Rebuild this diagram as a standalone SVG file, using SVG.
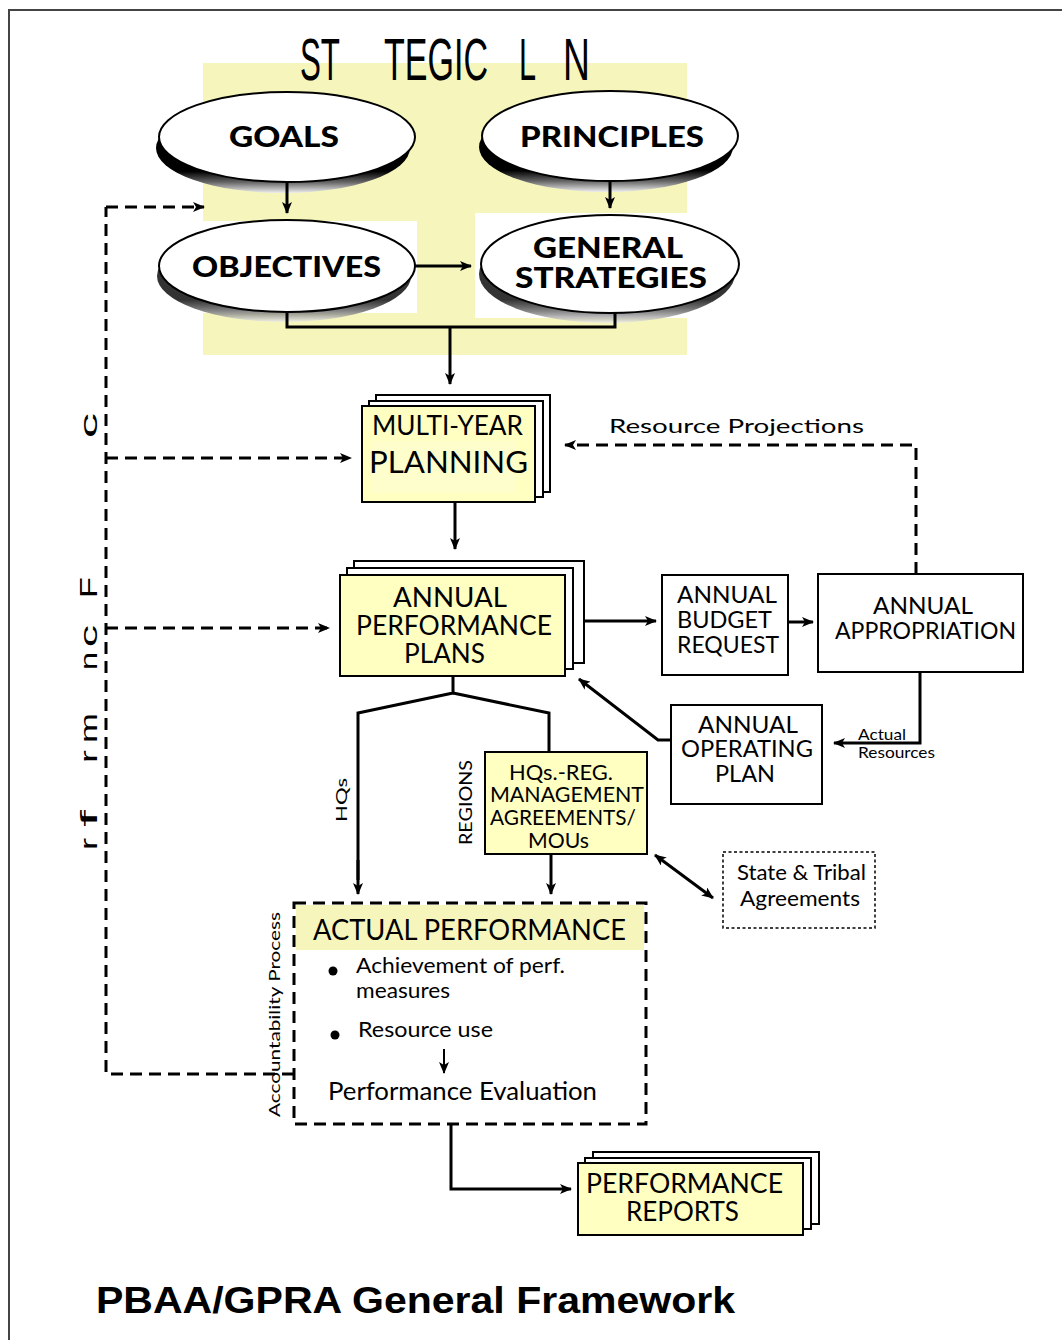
<svg xmlns="http://www.w3.org/2000/svg" width="1062" height="1340" viewBox="0 0 1062 1340">
<defs>
  <marker id="ah" viewBox="0 0 12 10" refX="11" refY="5" markerWidth="12" markerHeight="10" markerUnits="userSpaceOnUse" orient="auto-start-reverse">
    <path d="M0,0 L12,5 L0,10 L3,5 z" fill="#000"/>
  </marker>
  <linearGradient id="shd" x1="0" y1="0" x2="0" y2="1">
    <stop offset="0.76" stop-color="#000"/>
    <stop offset="0.88" stop-color="#666"/>
    <stop offset="1" stop-color="#eee"/>
  </linearGradient>
  <style>
    .sans{font-family:Lato,"Open Sans","Liberation Sans",sans-serif;fill:#000}
    .bold{font-family:Lato,"Liberation Sans",sans-serif;font-weight:900;fill:#000}
    .narrow{font-family:"Liberation Sans",Arial,sans-serif;font-size:60px;fill:#000}
    .ell{fill:#fff;stroke:#000;stroke-width:2}
    .ylw{fill:#FFFFC2;stroke:#000;stroke-width:2}
    .wht{fill:#fff;stroke:#000;stroke-width:2}
    .ln{fill:none;stroke:#000;stroke-width:3}
    .dash{fill:none;stroke:#000;stroke-width:3;stroke-dasharray:12 7}
    .arr{marker-end:url(#ah)}
  </style>
</defs>
<rect width="1062" height="1340" fill="#fff"/>
<!-- frame -->
<path d="M9,1340 V10 H1062" fill="none" stroke="#444" stroke-width="2"/>

<!-- strategic planning background -->
<g id="strategic-bg">
  <rect x="203" y="63" width="484" height="292" fill="#F6F6BC"/>
  <rect x="203" y="221" width="214" height="92" fill="#fff"/>
  <rect x="475" y="213" width="212" height="105" fill="#fff"/>
  <text class="narrow" transform="translate(300,80) scale(0.55,1)" textLength="72.7" lengthAdjust="spacingAndGlyphs">ST</text>
  <text class="narrow" transform="translate(384,80) scale(0.55,1)" textLength="189" lengthAdjust="spacingAndGlyphs">TEGIC</text>
  <text class="narrow" transform="translate(519,80) scale(0.55,1)" textLength="31" lengthAdjust="spacingAndGlyphs">L</text>
  <text class="narrow" transform="translate(563,80) scale(0.55,1)" textLength="49" lengthAdjust="spacingAndGlyphs">N</text>
</g>

<g id="goals">
  <ellipse cx="283" cy="148" rx="127" ry="45" fill="url(#shd)"/>
  <ellipse class="ell" cx="287" cy="137" rx="128" ry="45"/>
  <text class="bold" x="229" y="147" font-size="29" textLength="110" lengthAdjust="spacingAndGlyphs">GOALS</text>
</g>
<g id="principles">
  <ellipse cx="606" cy="147" rx="127" ry="45" fill="url(#shd)"/>
  <ellipse class="ell" cx="610" cy="136" rx="128" ry="45"/>
  <text class="bold" x="520" y="147" font-size="29" textLength="184" lengthAdjust="spacingAndGlyphs">PRINCIPLES</text>
</g>
<g id="objectives">
  <ellipse cx="284" cy="276" rx="127" ry="46" fill="url(#shd)" opacity="0.8"/>
  <ellipse class="ell" cx="287" cy="266" rx="128" ry="46"/>
  <text class="bold" x="192" y="277" font-size="29" textLength="189" lengthAdjust="spacingAndGlyphs">OBJECTIVES</text>
</g>
<g id="general-strategies">
  <ellipse cx="607" cy="274" rx="128" ry="49" fill="url(#shd)" opacity="0.8"/>
  <ellipse class="ell" cx="610" cy="264" rx="129" ry="49"/>
  <text class="bold" x="533" y="258" font-size="29" textLength="150" lengthAdjust="spacingAndGlyphs">GENERAL</text>
  <text class="bold" x="515" y="288" font-size="29" textLength="192" lengthAdjust="spacingAndGlyphs">STRATEGIES</text>
</g>

<g id="multi-year-planning">
  <rect class="wht" x="376" y="395" width="174" height="97"/>
  <rect class="wht" x="369" y="401" width="174" height="96"/>
  <rect class="ylw" x="362" y="406" width="173" height="96" fill="#F9F9BE"/>
  <rect x="372" y="441" width="143" height="52" fill="#FEFECC"/>
  <text class="sans" x="372" y="435" font-size="27" textLength="151" lengthAdjust="spacingAndGlyphs">MULTI-YEAR</text>
  <text class="sans" x="369" y="473" font-size="30" textLength="159" lengthAdjust="spacingAndGlyphs">PLANNING</text>
</g>

<g id="annual-performance-plans">
  <rect class="wht" x="354" y="561" width="230" height="102"/>
  <rect class="wht" x="347" y="568" width="226" height="101"/>
  <rect class="ylw" x="340" y="575" width="225" height="101"/>
  <text class="sans" x="393" y="607" font-size="26" textLength="114" lengthAdjust="spacingAndGlyphs">ANNUAL</text>
  <text class="sans" x="356" y="635" font-size="26" textLength="196" lengthAdjust="spacingAndGlyphs">PERFORMANCE</text>
  <text class="sans" x="404" y="663" font-size="26" textLength="81" lengthAdjust="spacingAndGlyphs">PLANS</text>
</g>

<g id="annual-budget-request">
  <rect class="wht" x="662" y="575" width="126" height="100"/>
  <text class="sans" x="677" y="603" font-size="23.5" textLength="100" lengthAdjust="spacingAndGlyphs">ANNUAL</text>
  <text class="sans" x="677" y="628" font-size="23.5" textLength="95" lengthAdjust="spacingAndGlyphs">BUDGET</text>
  <text class="sans" x="677" y="653" font-size="23.5" textLength="102" lengthAdjust="spacingAndGlyphs">REQUEST</text>
</g>

<g id="annual-appropriation">
  <rect class="wht" x="818" y="574" width="205" height="98"/>
  <text class="sans" x="873" y="614" font-size="23.5" textLength="100" lengthAdjust="spacingAndGlyphs">ANNUAL</text>
  <text class="sans" x="835" y="639" font-size="23.5" textLength="181" lengthAdjust="spacingAndGlyphs">APPROPRIATION</text>
</g>

<g id="annual-operating-plan">
  <rect class="wht" x="671" y="705" width="151" height="99"/>
  <text class="sans" x="698" y="733" font-size="23.5" textLength="100" lengthAdjust="spacingAndGlyphs">ANNUAL</text>
  <text class="sans" x="681" y="757" font-size="23.5" textLength="132" lengthAdjust="spacingAndGlyphs">OPERATING</text>
  <text class="sans" x="715" y="782" font-size="23.5" textLength="60" lengthAdjust="spacingAndGlyphs">PLAN</text>
</g>

<g id="hqs-reg-agreements">
  <rect class="ylw" x="485" y="752" width="162" height="102"/>
  <text class="sans" x="509" y="780" font-size="20.5" textLength="104" lengthAdjust="spacingAndGlyphs">HQs.-REG.</text>
  <text class="sans" x="490" y="802" font-size="20.5" textLength="154" lengthAdjust="spacingAndGlyphs">MANAGEMENT</text>
  <text class="sans" x="490" y="825" font-size="20.5" textLength="146" lengthAdjust="spacingAndGlyphs">AGREEMENTS/</text>
  <text class="sans" x="528" y="848" font-size="20.5" textLength="61" lengthAdjust="spacingAndGlyphs">MOUs</text>
</g>

<g id="state-tribal-agreements">
  <rect x="723" y="852" width="152" height="76" fill="#fff" stroke="#000" stroke-width="1.5" stroke-dasharray="3 2.5"/>
  <text class="sans" x="737" y="880" font-size="21" textLength="129" lengthAdjust="spacingAndGlyphs">State &amp; Tribal</text>
  <text class="sans" x="740" y="906" font-size="21" textLength="120" lengthAdjust="spacingAndGlyphs">Agreements</text>
</g>

<g id="actual-performance">
  <rect x="296" y="905" width="348" height="45" fill="#F6F6BC"/>
  <rect x="294" y="903" width="352" height="221" fill="none" stroke="#000" stroke-width="3" stroke-dasharray="12 7"/>
  <text class="sans" x="313" y="940" font-size="28" textLength="313" lengthAdjust="spacingAndGlyphs">ACTUAL PERFORMANCE</text>
  <circle cx="333" cy="971" r="4.5" fill="#000"/>
  <text class="sans" x="356" y="973" font-size="21" textLength="209" lengthAdjust="spacingAndGlyphs">Achievement of perf.</text>
  <text class="sans" x="356" y="998" font-size="21" textLength="94" lengthAdjust="spacingAndGlyphs">measures</text>
  <circle cx="335" cy="1035" r="4.5" fill="#000"/>
  <text class="sans" x="358" y="1037" font-size="21" textLength="135" lengthAdjust="spacingAndGlyphs">Resource use</text>
  <line x1="444" y1="1049" x2="444" y2="1073" stroke="#000" stroke-width="2" marker-end="url(#ah)"/>
  <text class="sans" x="328" y="1100" font-size="25" textLength="269" lengthAdjust="spacingAndGlyphs">Performance Evaluation</text>
</g>

<g id="performance-reports">
  <rect class="wht" x="593" y="1152" width="226" height="72"/>
  <rect class="wht" x="585" y="1158" width="226" height="71"/>
  <rect class="ylw" x="578" y="1163" width="225" height="72"/>
  <text class="sans" x="586" y="1193" font-size="26" textLength="197" lengthAdjust="spacingAndGlyphs">PERFORMANCE</text>
  <text class="sans" x="626" y="1221" font-size="26" textLength="113" lengthAdjust="spacingAndGlyphs">REPORTS</text>
</g>

<g id="connectors">
  <line class="ln arr" x1="287" y1="182" x2="287" y2="213" stroke-width="2.5"/>
  <line class="ln arr" x1="610" y1="181" x2="610" y2="208" stroke-width="2.5"/>
  <line class="ln arr" x1="415" y1="266" x2="471" y2="266"/>
  <path class="ln" d="M287,312 V327 H615 V313"/>
  <line class="ln arr" x1="450" y1="327" x2="450" y2="384"/>
  <line class="ln arr" x1="455" y1="502" x2="455" y2="549" stroke-width="2.5"/>
  <line class="ln arr" x1="584" y1="621" x2="656" y2="621"/>
  <line class="ln arr" x1="788" y1="622" x2="813" y2="622" stroke-width="4"/>
  <path class="dash arr" d="M916,574 V445 H565"/>
  <path class="ln arr" d="M920,672 V743 H834" stroke-width="4"/>
  <path class="ln arr" d="M671,740 H658 L579,679" stroke-width="4"/>
  <path class="ln" d="M453,676 V693 L358,713 V880"/>
  <line class="ln arr" x1="358" y1="860" x2="358" y2="894"/>
  <path class="ln" d="M453,693 L549,713 V752"/>
  <line class="ln arr" x1="551" y1="854" x2="551" y2="894"/>
  <line class="ln" x1="655" y1="855" x2="713" y2="898" stroke-width="4" marker-start="url(#ah)" marker-end="url(#ah)"/>
  <path class="ln arr" d="M451,1124 V1189 H571"/>
  <!-- feedback dashed -->
  <path class="dash" d="M294,1074 H106 V207"/>
  <line class="dash arr" x1="106" y1="207" x2="204" y2="207" stroke-width="2.5"/>
  <line class="dash arr" x1="106" y1="458" x2="351" y2="458"/>
  <line class="dash arr" x1="106" y1="628" x2="329" y2="628"/>
</g>

<g id="labels">
  <text class="sans" x="609" y="433" font-size="20" textLength="255" lengthAdjust="spacingAndGlyphs" font-family="DejaVu Sans,sans-serif" fill="#222">Resource Projections</text>
  <text class="sans" x="858" y="740" font-size="15" textLength="48" lengthAdjust="spacingAndGlyphs">Actual</text>
  <text class="sans" x="858" y="758" font-size="15" textLength="77" lengthAdjust="spacingAndGlyphs">Resources</text>
  <text class="sans" transform="translate(347,822) rotate(-90)" font-size="16" textLength="44" lengthAdjust="spacingAndGlyphs">HQs</text>
  <text class="sans" transform="translate(472,845) rotate(-90)" font-size="17" textLength="85" lengthAdjust="spacingAndGlyphs">REGIONS</text>
  <text class="sans" transform="translate(280,1117) rotate(-90)" font-size="16" textLength="205" lengthAdjust="spacingAndGlyphs">Accountability Process</text>
  <g font-family="Liberation Sans,sans-serif" font-size="24">
    <text transform="translate(97,850) rotate(-90)" textLength="12" lengthAdjust="spacingAndGlyphs">r</text>
    <text transform="translate(97,827) rotate(-90)" textLength="17" lengthAdjust="spacingAndGlyphs">f</text>
    <text transform="translate(97,763) rotate(-90)" textLength="13" lengthAdjust="spacingAndGlyphs">r</text>
    <text transform="translate(97,743) rotate(-90)" textLength="30" lengthAdjust="spacingAndGlyphs">m</text>
    <text transform="translate(97,670) rotate(-90)" textLength="18" lengthAdjust="spacingAndGlyphs">n</text>
    <text transform="translate(97,647) rotate(-90)" textLength="22" lengthAdjust="spacingAndGlyphs">c</text>
    <text transform="translate(97,598) rotate(-90)" textLength="21" lengthAdjust="spacingAndGlyphs">F</text>
    <text transform="translate(97,438) rotate(-90)" textLength="25" lengthAdjust="spacingAndGlyphs">c</text>
  </g>
  <text x="96" y="1313" font-family="Liberation Sans,Arial,sans-serif" font-weight="bold" font-size="36" textLength="639" lengthAdjust="spacingAndGlyphs">PBAA/GPRA General Framework</text>
</g>
</svg>
